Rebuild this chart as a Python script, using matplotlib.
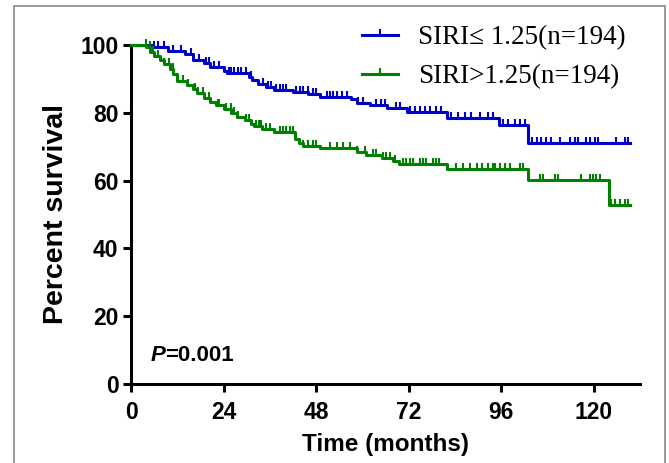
import numpy as np
import matplotlib.pyplot as plt
from matplotlib.lines import Line2D
from matplotlib.patches import Rectangle

# Kaplan-Meier step data (time of drop, level after drop)
t_end = 129.5
low_t = [5.5, 9.5, 14, 16, 19, 20.5, 24, 25, 30.5, 31.5, 33, 35, 37, 42, 46, 49,
         57, 58.5, 62, 66.5, 71.5, 82, 95.5, 103]
low_s = [99.4, 98.3, 97.2, 95.6, 94.6, 93.5, 92.4, 91.6, 90.5, 89.6, 88.5, 87.6,
         86.7, 86.1, 85.5, 84.7, 84.0, 83.0, 82.4, 81.4, 80.2, 78.6, 76.5, 71.2]
low_cens = [5.9, 6.9, 8.6, 10.8, 13, 15.6, 17.7, 19.4, 20.3, 21.6, 22.9, 25.5, 25.9,
            26.8, 27.7, 28.5, 29.8, 31.2, 34.3, 35.6, 36.4, 37.7, 38.6, 39.4, 40.3,
            42.9, 43.8, 44.6, 45.9, 47.2, 48.1, 50.7, 51.5, 52.4, 53.3, 54.6, 55.9,
            58.8, 60.2, 63.6, 64.9, 65.8, 68.8, 69.7, 72.3, 73.6, 74.9, 76.2, 77.5,
            79.2, 80.5, 83.1, 84.8, 86.5, 88.3, 90.4, 92.6, 93.9, 96.5, 97.8, 99.5,
            100.8, 102.1, 103.9, 105.2, 106.4, 107.7, 109, 111.2, 113.8, 115.1,
            115.9, 118.1, 119, 120.3, 121.2, 125.9, 128, 128.9]

high_t = [4, 5, 6, 7.5, 8.5, 10, 11, 12, 14.5, 16, 17, 19, 20.5, 22, 24, 26, 27.5,
          29.5, 31, 32, 34, 37, 42.5, 43.5, 44.5, 49, 58.5, 61, 65, 68, 69.5, 82,
          103, 124]
high_s = [99.4, 98, 96.8, 95.5, 94.5, 93, 91.5, 89.5, 88.3, 87, 85.8, 84.5, 83.2,
          82.2, 81, 80, 78.8, 77.8, 76.8, 76.2, 75.3, 74.2, 72.3, 71.2, 70.3, 69.5,
          68.5, 67.6, 66.7, 65.8, 64.8, 63.3, 60.2, 52.8]
high_cens = [3.9, 4.8, 5.6, 6.9, 8.6, 9.9, 10.8, 13.4, 14.7, 16.5, 17.3, 18.6, 20.3,
             22.5, 22.9, 24.6, 25.9, 26.8, 27.7, 29.8, 30.7, 32.5, 33.3, 33.8, 35.1,
             36, 38.6, 39.4, 40.3, 41.2, 42, 44.6, 45.9, 47.2, 48.1, 51.5, 53.3, 55,
             56.7, 58.5, 60.6, 62.8, 63.6, 65.4, 66.2, 67.1, 68.4, 70.5, 71.4, 72.3,
             73.1, 74.9, 75.7, 76.6, 78.3, 79.2, 80, 84.4, 86.1, 87.8, 89.6, 90.9,
             92.6, 93.9, 94.3, 95.6, 96.9, 98.2, 100.8, 101.7, 106, 106.9, 109.9,
             110.8, 116.8, 119, 119.8, 120.7, 121.6, 124.6, 125.5, 126.8, 128, 128.9]

labels = ["SIRI\u2264 1.25(n=194)", "SIRI>1.25(n=194)"]
colors = ["#0000C8", "#008000"]


def km_curve(ax, times, surv, cens, color):
    x = np.concatenate([[0], times, [t_end]])
    y = np.concatenate([[100], surv, [surv[-1]]])
    ax.step(x, y, where="post", color=color, lw=2.2, clip_on=False, zorder=3)
    idx = np.searchsorted(times, cens, side="right")
    lev = np.concatenate([[100], surv])[idx]
    ax.plot(cens, lev, ls="none", marker=2, ms=4, mew=1.5, color=color,
            clip_on=False, zorder=3)


fig = plt.figure(figsize=(6.69, 4.63), dpi=100)
ax = fig.add_axes([131 / 669, 79 / 463, 509 / 669, 339 / 463])

km_curve(ax, low_t, low_s, low_cens, colors[0])
km_curve(ax, high_t, high_s, high_cens, colors[1])

ax.set_xlim(0, 132)
ax.set_ylim(0, 100)
ax.set_xticks([0, 24, 48, 72, 96, 120])
ax.set_yticks([0, 20, 40, 60, 80, 100])
for s in ["top", "right"]:
    ax.spines[s].set_visible(False)
for s in ["left", "bottom"]:
    ax.spines[s].set_linewidth(2.2)
ax.tick_params(width=2.2, length=6, direction="out", pad=3)
ax.tick_params(axis="x", pad=6)
for lab in ax.get_xticklabels() + ax.get_yticklabels():
    lab.set_fontfamily("Liberation Sans")
    lab.set_fontweight("bold")
    lab.set_fontsize(16.5)

ax.set_xlabel("Time (months)", fontsize=17.5, fontweight="bold",
              family="Liberation Sans", labelpad=7)
ax.set_ylabel("Percent survival", fontsize=20.5, fontweight="bold",
              family="Liberation Sans", labelpad=8)

ax.text(5.2, 8.5, "P", fontsize=16, fontweight="bold", style="italic",
        family="Liberation Sans", va="center")
ax.text(8.9, 8.5, "=0.001", fontsize=16, fontweight="bold",
        family="Liberation Sans", va="center")

handles = [Line2D([], [], color=c, lw=2.2, marker=2, ms=4, mew=1.5) for c in colors]
fig.legend(handles, labels, loc="upper left", bbox_to_anchor=(362 / 669, 1 - 25 / 463),
           frameon=False, prop={"family": ["Liberation Serif", "DejaVu Serif"],
                                "size": 19.5},
           borderpad=0, borderaxespad=0,
           handlelength=1.33, handletextpad=0.74, labelspacing=0.52)

fig.add_artist(Rectangle((14 / 669, -0.05), 651 / 669, 1 - 6 / 463 + 0.05,
                         transform=fig.transFigure, fill=False,
                         edgecolor="#888888", lw=1.2, clip_on=False))

fig.savefig("out.png", dpi=100)
